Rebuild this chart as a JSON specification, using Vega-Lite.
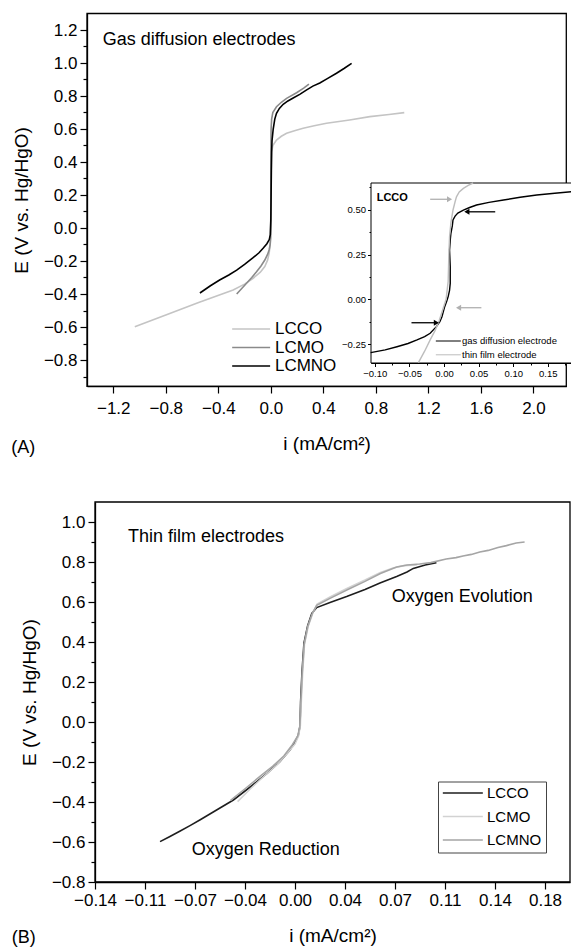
{
"$schema": "https://vega.github.io/schema/vega-lite/v6.json",
"width": 571, "height": 950, "autosize": {"type": "none"}, "padding": 0, "background": "white",
"config": {
  "font": "Liberation Sans",
  "view": {"stroke": null},
  "axis": {"domainColor": "black", "domainWidth": 1.3, "tickColor": "black", "tickWidth": 1.2, "labelColor": "black", "titleColor": "black", "titleFontWeight": "normal", "labelFontSize": 17, "titleFontSize": 19, "labelFlush": false, "labelOverlap": false, "labelBound": false, "grid": false, "labelPadding": 3, "labelFont": "Liberation Sans", "titleFont": "Liberation Sans"},
  "legend": {"labelColor": "black", "labelFont": "Liberation Sans"},
  "text": {"color": "black", "font": "Liberation Sans"}
},
"datasets": {
  "A": [
    {"s":"LCCO","i":-1.036,"E":-0.598},{"s":"LCCO","i":-0.8,"E":-0.527},{"s":"LCCO","i":-0.55,"E":-0.452},{"s":"LCCO","i":-0.287,"E":-0.376},{"s":"LCCO","i":-0.2,"E":-0.34},{"s":"LCCO","i":-0.135,"E":-0.305},{"s":"LCCO","i":-0.08,"E":-0.268},{"s":"LCCO","i":-0.046,"E":-0.234},{"s":"LCCO","i":-0.025,"E":-0.195},{"s":"LCCO","i":-0.013,"E":-0.153},{"s":"LCCO","i":-0.005,"E":-0.1},{"s":"LCCO","i":-0.002,"E":-0.06},{"s":"LCCO","i":0.0,"E":0.05},{"s":"LCCO","i":0.001,"E":0.2},{"s":"LCCO","i":0.003,"E":0.35},{"s":"LCCO","i":0.006,"E":0.46},{"s":"LCCO","i":0.015,"E":0.5},{"s":"LCCO","i":0.043,"E":0.533},{"s":"LCCO","i":0.08,"E":0.556},{"s":"LCCO","i":0.12,"E":0.574},{"s":"LCCO","i":0.18,"E":0.59},{"s":"LCCO","i":0.246,"E":0.604},{"s":"LCCO","i":0.33,"E":0.62},{"s":"LCCO","i":0.424,"E":0.635},{"s":"LCCO","i":0.6,"E":0.655},{"s":"LCCO","i":0.754,"E":0.675},{"s":"LCCO","i":0.9,"E":0.688},{"s":"LCCO","i":1.016,"E":0.699},
    {"s":"LCMO","i":-0.26,"E":-0.4},{"s":"LCMO","i":-0.22,"E":-0.365},{"s":"LCMO","i":-0.185,"E":-0.335},{"s":"LCMO","i":-0.145,"E":-0.3},{"s":"LCMO","i":-0.109,"E":-0.265},{"s":"LCMO","i":-0.075,"E":-0.23},{"s":"LCMO","i":-0.046,"E":-0.194},{"s":"LCMO","i":-0.025,"E":-0.16},{"s":"LCMO","i":-0.013,"E":-0.133},{"s":"LCMO","i":-0.005,"E":-0.1},{"s":"LCMO","i":-0.002,"E":-0.06},{"s":"LCMO","i":0.0,"E":0.1},{"s":"LCMO","i":0.0,"E":0.3},{"s":"LCMO","i":0.001,"E":0.5},{"s":"LCMO","i":0.002,"E":0.6},{"s":"LCMO","i":0.006,"E":0.66},{"s":"LCMO","i":0.015,"E":0.7},{"s":"LCMO","i":0.043,"E":0.735},{"s":"LCMO","i":0.08,"E":0.762},{"s":"LCMO","i":0.12,"E":0.786},{"s":"LCMO","i":0.196,"E":0.82},{"s":"LCMO","i":0.25,"E":0.848},{"s":"LCMO","i":0.29,"E":0.872},
    {"s":"LCMNO","i":-0.54,"E":-0.394},{"s":"LCMNO","i":-0.46,"E":-0.35},{"s":"LCMNO","i":-0.39,"E":-0.315},{"s":"LCMNO","i":-0.32,"E":-0.285},{"s":"LCMNO","i":-0.26,"E":-0.255},{"s":"LCMNO","i":-0.2,"E":-0.22},{"s":"LCMNO","i":-0.135,"E":-0.18},{"s":"LCMNO","i":-0.09,"E":-0.15},{"s":"LCMNO","i":-0.059,"E":-0.123},{"s":"LCMNO","i":-0.03,"E":-0.095},{"s":"LCMNO","i":-0.012,"E":-0.07},{"s":"LCMNO","i":-0.004,"E":-0.04},{"s":"LCMNO","i":0.0,"E":0.05},{"s":"LCMNO","i":0.002,"E":0.2},{"s":"LCMNO","i":0.004,"E":0.35},{"s":"LCMNO","i":0.006,"E":0.46},{"s":"LCMNO","i":0.009,"E":0.53},{"s":"LCMNO","i":0.018,"E":0.6},{"s":"LCMNO","i":0.03,"E":0.66},{"s":"LCMNO","i":0.043,"E":0.695},{"s":"LCMNO","i":0.065,"E":0.725},{"s":"LCMNO","i":0.094,"E":0.75},{"s":"LCMNO","i":0.13,"E":0.77},{"s":"LCMNO","i":0.17,"E":0.788},{"s":"LCMNO","i":0.22,"E":0.81},{"s":"LCMNO","i":0.27,"E":0.836},{"s":"LCMNO","i":0.32,"E":0.86},{"s":"LCMNO","i":0.373,"E":0.879},{"s":"LCMNO","i":0.43,"E":0.905},{"s":"LCMNO","i":0.5,"E":0.938},{"s":"LCMNO","i":0.56,"E":0.968},{"s":"LCMNO","i":0.615,"E":0.998}
  ],
  "inset": [
    {"s":"gas diffusion electrode","i":-0.106,"E":-0.298},{"s":"gas diffusion electrode","i":-0.085,"E":-0.283},{"s":"gas diffusion electrode","i":-0.068,"E":-0.265},{"s":"gas diffusion electrode","i":-0.052,"E":-0.247},{"s":"gas diffusion electrode","i":-0.039,"E":-0.227},{"s":"gas diffusion electrode","i":-0.028,"E":-0.208},{"s":"gas diffusion electrode","i":-0.02,"E":-0.19},{"s":"gas diffusion electrode","i":-0.011,"E":-0.153},{"s":"gas diffusion electrode","i":-0.006,"E":-0.125},{"s":"gas diffusion electrode","i":-0.003,"E":-0.097},{"s":"gas diffusion electrode","i":0.001,"E":-0.041},{"s":"gas diffusion electrode","i":0.004,"E":-0.01},{"s":"gas diffusion electrode","i":0.006,"E":0.015},{"s":"gas diffusion electrode","i":0.008,"E":0.05},{"s":"gas diffusion electrode","i":0.009,"E":0.089},{"s":"gas diffusion electrode","i":0.009,"E":0.182},{"s":"gas diffusion electrode","i":0.008,"E":0.275},{"s":"gas diffusion electrode","i":0.009,"E":0.33},{"s":"gas diffusion electrode","i":0.01,"E":0.369},{"s":"gas diffusion electrode","i":0.012,"E":0.41},{"s":"gas diffusion electrode","i":0.013,"E":0.443},{"s":"gas diffusion electrode","i":0.016,"E":0.465},{"s":"gas diffusion electrode","i":0.02,"E":0.482},{"s":"gas diffusion electrode","i":0.028,"E":0.499},{"s":"gas diffusion electrode","i":0.037,"E":0.513},{"s":"gas diffusion electrode","i":0.047,"E":0.527},{"s":"gas diffusion electrode","i":0.065,"E":0.542},{"s":"gas diffusion electrode","i":0.086,"E":0.555},{"s":"gas diffusion electrode","i":0.11,"E":0.57},{"s":"gas diffusion electrode","i":0.134,"E":0.583},{"s":"gas diffusion electrode","i":0.16,"E":0.593},{"s":"gas diffusion electrode","i":0.19,"E":0.603},
    {"s":"thin film electrode","i":-0.037,"E":-0.354},{"s":"thin film electrode","i":-0.028,"E":-0.29},{"s":"thin film electrode","i":-0.02,"E":-0.227},{"s":"thin film electrode","i":-0.013,"E":-0.175},{"s":"thin film electrode","i":-0.007,"E":-0.12},{"s":"thin film electrode","i":-0.002,"E":-0.06},{"s":"thin film electrode","i":0.003,"E":0.0},{"s":"thin film electrode","i":0.006,"E":0.1},{"s":"thin film electrode","i":0.007,"E":0.25},{"s":"thin film electrode","i":0.008,"E":0.35},{"s":"thin film electrode","i":0.01,"E":0.43},{"s":"thin film electrode","i":0.013,"E":0.499},{"s":"thin film electrode","i":0.016,"E":0.545},{"s":"thin film electrode","i":0.018,"E":0.573},{"s":"thin film electrode","i":0.022,"E":0.6},{"s":"thin film electrode","i":0.028,"E":0.62},{"s":"thin film electrode","i":0.035,"E":0.637},{"s":"thin film electrode","i":0.042,"E":0.65}
  ],
  "arrows": [
    {"tone":"gray","tail":-0.02,"head":0.008,"E":0.559,"dir":"right"},
    {"tone":"gray","tail":0.054,"head":0.021,"E":-0.047,"dir":"left"},
    {"tone":"black","tail":0.074,"head":0.033,"E":0.489,"dir":"left"},
    {"tone":"black","tail":-0.047,"head":-0.011,"E":-0.131,"dir":"right"}
  ],
  "B": [
    {"s":"LCCO","i":-0.0964,"E":-0.598},{"s":"LCCO","i":-0.09,"E":-0.575},{"s":"LCCO","i":-0.082,"E":-0.545},{"s":"LCCO","i":-0.075,"E":-0.518},{"s":"LCCO","i":-0.068,"E":-0.49},{"s":"LCCO","i":-0.056,"E":-0.44},{"s":"LCCO","i":-0.044,"E":-0.39},{"s":"LCCO","i":-0.032,"E":-0.325},{"s":"LCCO","i":-0.02,"E":-0.257},{"s":"LCCO","i":-0.011,"E":-0.2},{"s":"LCCO","i":-0.0036,"E":-0.14},{"s":"LCCO","i":0.0,"E":-0.1},{"s":"LCCO","i":0.0024,"E":-0.065},{"s":"LCCO","i":0.0036,"E":-0.02},{"s":"LCCO","i":0.004,"E":0.1},{"s":"LCCO","i":0.005,"E":0.25},{"s":"LCCO","i":0.0064,"E":0.395},{"s":"LCCO","i":0.009,"E":0.48},{"s":"LCCO","i":0.012,"E":0.543},{"s":"LCCO","i":0.0155,"E":0.572},{"s":"LCCO","i":0.025,"E":0.598},{"s":"LCCO","i":0.0369,"E":0.627},{"s":"LCCO","i":0.05,"E":0.662},{"s":"LCCO","i":0.0607,"E":0.695},{"s":"LCCO","i":0.0726,"E":0.728},{"s":"LCCO","i":0.08,"E":0.75},{"s":"LCCO","i":0.0845,"E":0.768},{"s":"LCCO","i":0.093,"E":0.785},{"s":"LCCO","i":0.101,"E":0.797},
    {"s":"LCMO","i":-0.041,"E":-0.398},{"s":"LCMO","i":-0.032,"E":-0.335},{"s":"LCMO","i":-0.022,"E":-0.27},{"s":"LCMO","i":-0.013,"E":-0.215},{"s":"LCMO","i":-0.006,"E":-0.16},{"s":"LCMO","i":0.0,"E":-0.11},{"s":"LCMO","i":0.0025,"E":-0.07},{"s":"LCMO","i":0.0038,"E":-0.02},{"s":"LCMO","i":0.0045,"E":0.1},{"s":"LCMO","i":0.0055,"E":0.25},{"s":"LCMO","i":0.0068,"E":0.39},{"s":"LCMO","i":0.0095,"E":0.48},{"s":"LCMO","i":0.013,"E":0.55},{"s":"LCMO","i":0.0158,"E":0.59},{"s":"LCMO","i":0.025,"E":0.625},{"s":"LCMO","i":0.037,"E":0.668},{"s":"LCMO","i":0.05,"E":0.71},{"s":"LCMO","i":0.061,"E":0.748},{"s":"LCMO","i":0.07,"E":0.77},{"s":"LCMO","i":0.078,"E":0.782},{"s":"LCMO","i":0.087,"E":0.785},
    {"s":"LCMNO","i":-0.046,"E":-0.392},{"s":"LCMNO","i":-0.035,"E":-0.33},{"s":"LCMNO","i":-0.025,"E":-0.272},{"s":"LCMNO","i":-0.016,"E":-0.222},{"s":"LCMNO","i":-0.008,"E":-0.17},{"s":"LCMNO","i":-0.002,"E":-0.115},{"s":"LCMNO","i":0.002,"E":-0.07},{"s":"LCMNO","i":0.0035,"E":-0.02},{"s":"LCMNO","i":0.0042,"E":0.1},{"s":"LCMNO","i":0.0052,"E":0.25},{"s":"LCMNO","i":0.0066,"E":0.39},{"s":"LCMNO","i":0.009,"E":0.475},{"s":"LCMNO","i":0.0125,"E":0.545},{"s":"LCMNO","i":0.0155,"E":0.583},{"s":"LCMNO","i":0.025,"E":0.618},{"s":"LCMNO","i":0.037,"E":0.66},{"s":"LCMNO","i":0.05,"E":0.703},{"s":"LCMNO","i":0.061,"E":0.742},{"s":"LCMNO","i":0.0726,"E":0.775},{"s":"LCMNO","i":0.08,"E":0.785},{"s":"LCMNO","i":0.089,"E":0.79},{"s":"LCMNO","i":0.097,"E":0.797},{"s":"LCMNO","i":0.108,"E":0.815},{"s":"LCMNO","i":0.115,"E":0.822},{"s":"LCMNO","i":0.12,"E":0.83},{"s":"LCMNO","i":0.126,"E":0.838},{"s":"LCMNO","i":0.132,"E":0.85},{"s":"LCMNO","i":0.138,"E":0.858},{"s":"LCMNO","i":0.145,"E":0.873},{"s":"LCMNO","i":0.151,"E":0.882},{"s":"LCMNO","i":0.158,"E":0.895},{"s":"LCMNO","i":0.164,"E":0.9}
  ],
  "textA": [
    {"i":-1.28,"E":1.139,"t":"Gas diffusion electrodes"},
    {"i":-1.976,"E":-1.333,"t":"(A)"}
  ],
  "textB": [
    {"i":-0.1193,"E":0.925,"t":"Thin film electrodes"},
    {"i":0.0691,"E":0.6265,"t":"Oxygen Evolution"},
    {"i":-0.0738,"E":-0.64,"t":"Oxygen Reduction"},
    {"i":-0.2024,"E":-1.08,"t":"(B)"}
  ],
  "textInset": [
    {"i":-0.0973,"E":0.566,"t":"LCCO"}
  ]
},
"resolve": {
  "scale": {"x": "independent", "y": "independent", "color": "independent", "shape": "independent"},
  "axis": {"x": "independent", "y": "independent"},
  "legend": {"color": "independent"}
},
"layer": [
  {
    "layer": [
      {
        "data": {"name": "A"},
        "mark": {"type": "line", "strokeWidth": 1.6},
        "encoding": {
          "x": {"field": "i", "type": "quantitative",
            "scale": {"domain": [-1.4, 2.25], "range": [87, 566.3], "nice": false, "zero": false},
            "axis": {"orient": "bottom", "offset": -564, "title": "i (mA/cm²)", "titlePadding": 18, "labelPadding": 7, "labelOverlap": false, "labelBound": false, "labelFlush": false, "tickSize": 7,
              "values": [-1.2,-0.8,-0.4,0,0.4,0.8,1.2,1.6,2.0],
              "format": ".1f"}},
          "y": {"field": "E", "type": "quantitative",
            "scale": {"domain": [-0.96, 1.3], "range": [386.4, 13.5], "nice": false, "zero": false},
            "axis": {"orient": "left", "offset": -87, "title": "E (V vs. Hg/HgO)", "titlePadding": 12, "labelOverlap": false,
              "values": [-0.9,-0.8,-0.7,-0.6,-0.5,-0.4,-0.3,-0.2,-0.1,0,0.1,0.2,0.3,0.4,0.5,0.6,0.7,0.8,0.9,1.0,1.1,1.2],
              "labelExpr": "abs(round(datum.value*10))%2==0 ? format(datum.value,'.1f') : ''",
              "tickSize": {"condition": {"test": "abs(round(datum.value*10))%2!=0", "value": 4}, "value": 7}}},
          "color": {"field": "s", "type": "nominal",
            "scale": {"domain": ["LCCO", "LCMO", "LCMNO"], "range": ["#c4c4c4", "#8a8a8a", "#000000"]},
            "legend": {"orient": "none", "legendX": 230, "legendY": 320.5, "title": null, "symbolType": "M-3,0H3", "symbolSize": 160, "symbolOffset": 12.65, "symbolStrokeWidth": 1.5, "labelFontSize": 17, "rowPadding": 0.5, "padding": 0, "labelOffset": 15.3}},
          "order": {"value": null}
        }
      },
      {
        "data": {"values": [{}]},
        "mark": {"type": "rect", "filled": false, "stroke": "black", "strokeWidth": 1.3},
        "encoding": {"x": {"datum": -1.4}, "x2": {"datum": 2.25}, "y": {"datum": -0.96}, "y2": {"datum": 1.3}}
      },
      {
        "data": {"name": "textA"},
        "mark": {"type": "text", "align": "left", "baseline": "middle", "fontSize": 18},
        "encoding": {"x": {"field": "i", "type": "quantitative"}, "y": {"field": "E", "type": "quantitative"}, "text": {"field": "t"}}
      }
    ]
  },
  {
    "layer": [
      {
        "data": {"values": [{}]},
        "mark": {"type": "rect", "fill": "white", "stroke": "black", "strokeWidth": 1},
        "encoding": {"x": {"datum": -0.1055}, "x2": {"datum": 0.19}, "y": {"datum": -0.356}, "y2": {"datum": 0.65}}
      },
      {
        "data": {"name": "inset"},
        "mark": {"type": "line", "strokeWidth": 1.4},
        "encoding": {
          "x": {"field": "i", "type": "quantitative",
            "scale": {"domain": [-0.1055, 0.19], "range": [371, 575.5], "nice": false, "zero": false},
            "axis": {"orient": "bottom", "offset": -587, "title": null, "labelFontSize": 9.5, "labelPadding": 2, "domainWidth": 1, "tickWidth": 1, "labelOverlap": false,
              "values": [-0.1,-0.075,-0.05,-0.025,0,0.025,0.05,0.075,0.1,0.125,0.15,0.175],
              "labelExpr": "abs(round(datum.value*40))%2==0 ? format(datum.value,'.2f') : ''",
              "tickSize": {"condition": {"test": "abs(round(datum.value*40))%2!=0", "value": 2}, "value": 3.5}}},
          "y": {"field": "E", "type": "quantitative",
            "scale": {"domain": [-0.356, 0.65], "range": [363, 183], "nice": false, "zero": false},
            "axis": {"orient": "left", "offset": -371, "title": null, "labelFontSize": 9.5, "labelPadding": 2, "domainWidth": 1, "tickWidth": 1, "labelOverlap": false,
              "values": [-0.25,-0.125,0,0.125,0.25,0.375,0.5,0.625],
              "labelExpr": "abs(round(datum.value*8))%2==0 ? format(datum.value,'.2f') : ''",
              "tickSize": {"condition": {"test": "abs(round(datum.value*8))%2!=0", "value": 2}, "value": 3.5}}},
          "color": {"field": "s", "type": "nominal",
            "scale": {"domain": ["gas diffusion electrode", "thin film electrode"], "range": ["#000000", "#bdbdbd"]},
            "legend": {"orient": "none", "legendX": 435, "legendY": 336, "title": null, "symbolType": "M-3,0H3", "symbolSize": 69.4, "symbolOffset": 8.33, "symbolStrokeWidth": 1, "labelFontSize": 9.5, "rowPadding": 3.8, "padding": 0, "labelOffset": 8.7}},
          "order": {"value": null}
        }
      },
      {
        "data": {"name": "arrows"},
        "transform": [{"filter": "datum.tone == 'black'"}],
        "mark": {"type": "rule", "color": "black", "strokeWidth": 1.3},
        "encoding": {"x": {"field": "tail", "type": "quantitative"}, "x2": {"field": "head"}, "y": {"field": "E", "type": "quantitative"}}
      },
      {
        "data": {"name": "arrows"},
        "transform": [{"filter": "datum.tone == 'gray'"}],
        "mark": {"type": "rule", "color": "#b0b0b0", "strokeWidth": 1.3},
        "encoding": {"x": {"field": "tail", "type": "quantitative"}, "x2": {"field": "head"}, "y": {"field": "E", "type": "quantitative"}}
      },
      {
        "data": {"name": "arrows"},
        "transform": [{"filter": "datum.tone == 'black'"}],
        "mark": {"type": "point", "filled": true, "color": "black", "size": 35, "opacity": 1},
        "encoding": {"x": {"field": "head", "type": "quantitative"}, "y": {"field": "E", "type": "quantitative"},
          "shape": {"field": "dir", "type": "nominal", "scale": {"domain": ["left", "right"], "range": ["triangle-left", "triangle-right"]}, "legend": null}}
      },
      {
        "data": {"name": "arrows"},
        "transform": [{"filter": "datum.tone == 'gray'"}],
        "mark": {"type": "point", "filled": true, "color": "#b0b0b0", "size": 35, "opacity": 1},
        "encoding": {"x": {"field": "head", "type": "quantitative"}, "y": {"field": "E", "type": "quantitative"},
          "shape": {"field": "dir", "type": "nominal", "scale": {"domain": ["left", "right"], "range": ["triangle-left", "triangle-right"]}, "legend": null}}
      },
      {
        "data": {"name": "textInset"},
        "mark": {"type": "text", "align": "left", "baseline": "middle", "fontSize": 11, "fontWeight": "bold"},
        "encoding": {"x": {"field": "i", "type": "quantitative"}, "y": {"field": "E", "type": "quantitative"}, "text": {"field": "t"}}
      }
    ]
  },
  {
    "layer": [
      {
        "data": {"name": "B"},
        "mark": {"type": "line", "strokeWidth": 1.6},
        "encoding": {
          "x": {"field": "i", "type": "quantitative",
            "scale": {"domain": [-0.142857, 0.196429], "range": [95, 570], "nice": false, "zero": false},
            "axis": {"orient": "bottom", "offset": -68, "title": "i (mA/cm²)", "titlePadding": 18, "labelOverlap": false,
              "values": [-0.142857,-0.125,-0.107143,-0.089286,-0.071429,-0.053571,-0.035714,-0.017857,0,0.017857,0.035714,0.053571,0.071429,0.089286,0.107143,0.125,0.142857,0.160714,0.178571],
              "labelExpr": "abs(datum.value*28 - round(datum.value*28)) < 0.1 ? format(datum.value,'.2f') : ''",
              "tickSize": {"condition": {"test": "abs(datum.value*28 - round(datum.value*28)) >= 0.1", "value": 4}, "value": 7}}},
          "y": {"field": "E", "type": "quantitative",
            "scale": {"domain": [-0.8, 1.1], "range": [882, 502], "nice": false, "zero": false},
            "axis": {"orient": "left", "offset": -95, "title": "E (V vs. Hg/HgO)", "titlePadding": 12, "labelOverlap": false,
              "values": [-0.8,-0.7,-0.6,-0.5,-0.4,-0.3,-0.2,-0.1,0,0.1,0.2,0.3,0.4,0.5,0.6,0.7,0.8,0.9,1.0],
              "labelExpr": "abs(round(datum.value*10))%2==0 ? format(datum.value,'.1f') : ''",
              "tickSize": {"condition": {"test": "abs(round(datum.value*10))%2!=0", "value": 4}, "value": 7}}},
          "color": {"field": "s", "type": "nominal",
            "scale": {"domain": ["LCCO", "LCMO", "LCMNO"], "range": ["#1e1e1e", "#d2d2d2", "#a5a5a5"]},
            "legend": {"orient": "none", "legendX": 438, "legendY": 781.5, "title": null, "symbolType": "M-3,0H3", "symbolSize": 177.8, "symbolOffset": 13.33, "symbolStrokeWidth": 1.5, "labelFontSize": 15, "rowPadding": 7.5, "padding": 4, "strokeColor": "#444444", "fillColor": "white", "labelOffset": 16.7}},
          "order": {"value": null}
        }
      },
      {
        "data": {"values": [{}]},
        "mark": {"type": "rect", "filled": false, "stroke": "black", "strokeWidth": 1.3},
        "encoding": {"x": {"datum": -0.142857}, "x2": {"datum": 0.196429}, "y": {"datum": -0.8}, "y2": {"datum": 1.1}}
      },
      {
        "data": {"name": "textB"},
        "mark": {"type": "text", "align": "left", "baseline": "middle", "fontSize": 18},
        "encoding": {"x": {"field": "i", "type": "quantitative"}, "y": {"field": "E", "type": "quantitative"}, "text": {"field": "t"}}
      }
    ]
  }
]
}
